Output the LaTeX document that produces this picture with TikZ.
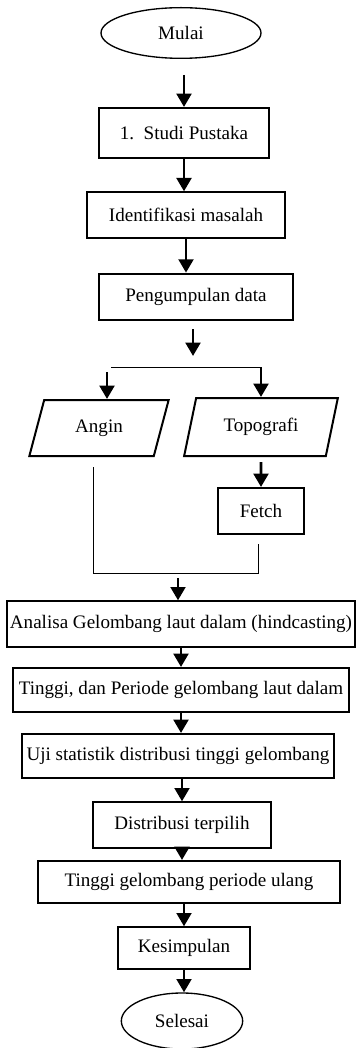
\documentclass[tikz,border=0pt]{standalone}
\usepackage{fontspec}
\setmainfont{Liberation Serif}
\usetikzlibrary{shapes.geometric,arrows.meta}

\begin{document}
\begin{tikzpicture}[x=0.75pt, y=-0.75pt,
    every node/.style={font=\fontsize{14.3}{16}\selectfont, inner sep=2pt},
    box/.style={draw, rectangle, line width=1.5pt, minimum height=34pt},
    term/.style={draw, ellipse, line width=1pt},
    io/.style={draw, trapezium, trapezium left angle=72, trapezium right angle=108, trapezium stretches=true, line width=1.5pt},
    arr/.style={-{Triangle[length=10pt,width=11pt]}, line width=2.2pt},
    link/.style={line width=0.7pt}]
    \useasboundingbox (0,0) rectangle (356,1048);

    \node [term, minimum width=120pt, minimum height=38pt] (mulai) at (181,33) {Mulai};
    \node [box, minimum width=127.5pt, minimum height=37.5pt] (studi) at (184,133) {1.\ \ Studi Pustaka};
    \node [box, minimum width=149pt] (idm) at (186,215) {Identifikasi masalah};
    \node [box, minimum width=145pt, minimum height=35pt] (pd) at (196,297) {Pengumpulan data};
    \node [io, minimum width=105pt, minimum height=42pt] (angin) at (99,428) {Angin};
    \node [io, minimum width=115.5pt, minimum height=43.5pt] (topo) at (261,427) {Topografi};
    \node [box, minimum width=65pt, minimum height=34.5pt] (fetch) at (261,511) {Fetch};
    \node [box, minimum width=261pt] (ana) at (181,624) {Analisa Gelombang laut dalam (hindcasting)};
    \node [box, minimum width=252pt, minimum height=33pt] (tpl) at (181,690) {Tinggi, dan Periode gelombang laut dalam};
    \node [box, minimum width=234pt, minimum height=33pt] (uji) at (178,756) {Uji statistik distribusi tinggi gelombang};
    \node [box, minimum width=134pt] (dist) at (182,825) {Distribusi terpilih};
    \node [box, minimum width=226.5pt, minimum height=31.5pt] (tgpu) at (189,882) {Tinggi gelombang periode ulang};
    \node [box, minimum width=99pt, minimum height=31pt] (kes) at (184,948) {Kesimpulan};
    \node [term, minimum width=91pt, minimum height=42pt] (selesai) at (182,1021) {Selesai};

    % loose ends of the branch
    \coordinate (gapA) at (193,329);
    \coordinate (gapB) at (193,356);
    \coordinate (splitL) at (111,367);
    \coordinate (splitR) at (261,367);
    \coordinate (inL) at (107,372);
    \coordinate (mergeL) at (93,573);
    \coordinate (mergeR) at (258,573);
    \coordinate (mergeC) at (178,578);

    \draw [arr, shorten <=12pt] (mulai.south -| studi.north) -- (studi.north);
    \draw [arr] (studi.south) -- (studi.south |- idm.north);
    \draw [arr] (idm.south) -- (idm.south |- pd.north);
    \draw [arr] (gapA) -- (gapB);
    \draw [link] (splitL) -- (splitR);
    \draw [arr] (inL) -- (inL |- angin.north);
    \draw [arr] (splitR) -- (splitR |- topo.north);
    \draw [arr, shorten <=3.75pt] (topo.south) -- (fetch.north);
    \draw [link, shorten <=7.5pt, shorten >=7pt] (angin.south -| mergeL) -- (mergeL) -- (mergeR) -- (fetch.south -| mergeR);
    \draw [arr] (mergeC) -- (mergeC |- ana.north);
    \draw [arr] (ana.south) -- (ana.south |- tpl.north);
    \draw [arr] (tpl.south) -- (tpl.south |- uji.north);
    \draw [arr] (dist.north |- uji.south) -- (dist.north);
    \draw [arr] (dist.south) -- (dist.south |- tgpu.north);
    \draw [arr] (kes.north |- tgpu.south) -- (kes.north);
    \draw [arr] (kes.south) -- (kes.south |- selesai.north);
\end{tikzpicture}
\end{document}
